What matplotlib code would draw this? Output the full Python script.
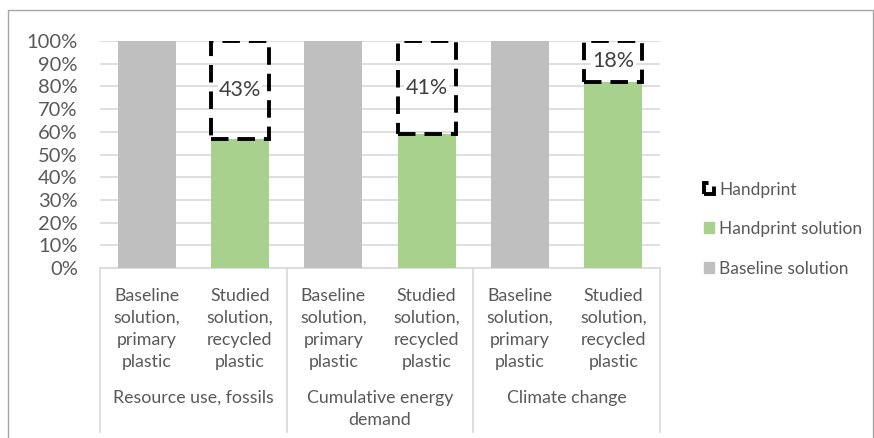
import numpy as np
import matplotlib.pyplot as plt
from matplotlib.patches import Rectangle
from matplotlib.lines import Line2D

plt.rcParams['font.family'] = ['Lato', 'DejaVu Sans']

# data
groups = ['Resource use, fossils', 'Cumulative energy\ndemand', 'Climate change']
bar_labels = ['Baseline\nsolution,\nprimary\nplastic', 'Studied\nsolution,\nrecycled\nplastic']
baseline = [100, 100, 100]
studied = [57, 59, 82]
handprint = [43, 41, 18]
yticks = [0, 10, 20, 30, 40, 50, 60, 70, 80, 90, 100]

gray = '#bfbfbf'
green = '#a9d18e'
txt = '#595959'
dash = (0, (4.5, 2.3))

fig = plt.figure(figsize=(8.74, 4.38), dpi=100)
fig.patches.append(Rectangle((8 / 874, -0.01), 0.999 - 8 / 874, 1 - 10 / 438 + 0.01,
                             transform=fig.transFigure, fill=False,
                             edgecolor='#a6a6a6', lw=1))
ax = fig.add_axes([100 / 874, 1 - 268 / 438, 560 / 874, 227 / 438])

n = len(groups)
xb = np.arange(n) * 2 + 0.5
xs = xb + 1
w = 0.62

ax.bar(xb, baseline, w, color=gray, zorder=3)
ax.bar(xs, studied, w, color=green, zorder=3)
ax.bar(xs, handprint, w, bottom=studied, facecolor='none', edgecolor='black',
       linestyle=dash, lw=2.8, zorder=4)
for x, s, h in zip(xs, studied, handprint):
    ax.text(x, s + h / 2, f'{h}%', ha='center', va='center', fontsize=15.5,
            color='#404040', zorder=5,
            bbox=dict(facecolor='white', edgecolor='none', pad=1))

ax.set_xlim(0, 2 * n)
ax.set_ylim(0, 100)
ax.set_yticks(yticks)
ax.set_yticklabels([f'{v}%' for v in yticks], fontsize=14.5, color=txt)
ax.tick_params(axis='y', length=0, pad=16)
ax.set_xticks([])
ax.yaxis.grid(True, color='#d9d9d9', lw=1.2, zorder=0)
for sp in ['top', 'right', 'left']:
    ax.spines[sp].set_visible(False)
ax.spines['bottom'].set_color('#d9d9d9')
ax.spines['bottom'].set_linewidth(1.2)

# category axis labels
tr = ax.get_xaxis_transform()
for i in range(n + 1):
    ax.add_line(Line2D([2 * i, 2 * i], [0, -164 / 227], transform=tr,
                       color='#d9d9d9', lw=1.2, clip_on=False))
for i in range(n):
    for j, x in enumerate([xb[i], xs[i]]):
        ax.text(x, -20 / 227, bar_labels[j], transform=tr, ha='center', va='top',
                fontsize=12.8, color=txt, linespacing=1.45)
    ax.text(2 * i + 1, -122 / 227, groups[i], transform=tr, ha='center', va='top',
            fontsize=12.8, color=txt, linespacing=1.45)

handles = [Rectangle((0, 0), 1, 1, facecolor='none', edgecolor='black',
                     linestyle=dash, lw=2.8),
           Rectangle((0, 0), 1, 1, color=green),
           Rectangle((0, 0), 1, 1, color=gray)]
fig.legend(handles, ['Handprint', 'Handprint solution', 'Baseline solution'],
           loc='upper left', bbox_to_anchor=(688 / 874, 1 - 166 / 438),
           frameon=False, fontsize=12.5, labelcolor=txt, handlelength=0.6,
           handleheight=0.6, handletextpad=0.3, labelspacing=1.35)

fig.savefig('out.png', dpi=100)
